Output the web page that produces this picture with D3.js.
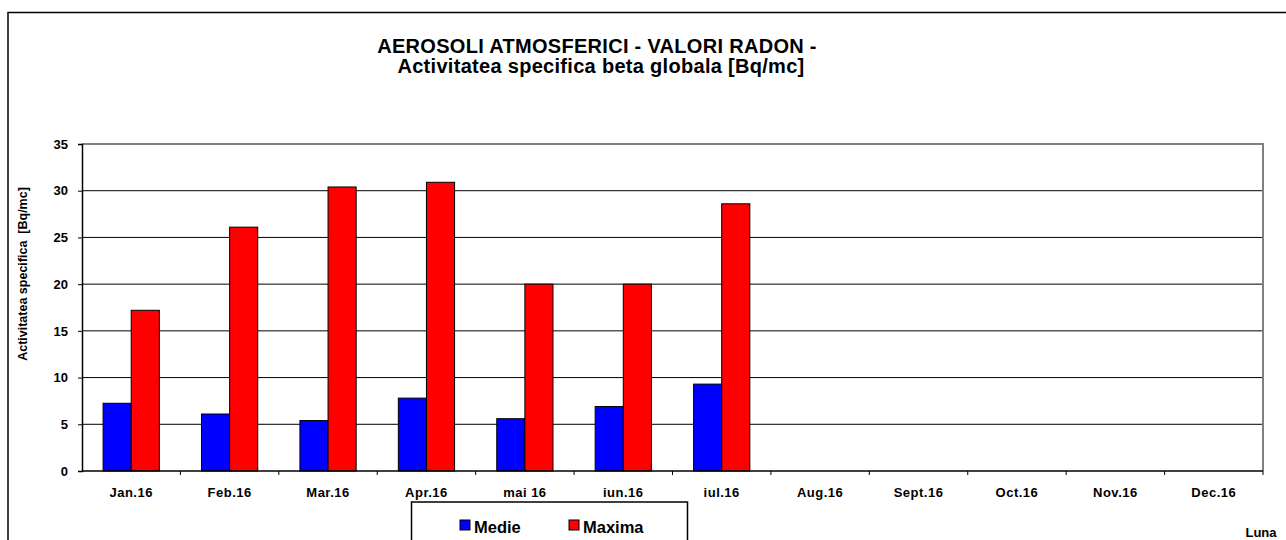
<!DOCTYPE html>
<html>
<head>
<meta charset="utf-8">
<script src="https://cdn.jsdelivr.net/npm/d3@7"></script>
<style>
  html, body { margin: 0; padding: 0; background: #fff; }
  svg { display: block; font-family: "Liberation Sans", Arial, sans-serif; }
</style>
</head>
<body>
<svg id="chart"></svg>
<script>
const months = ["Jan.16", "Feb.16", "Mar.16", "Apr.16", "mai 16", "iun.16", "iul.16",
                "Aug.16", "Sept.16", "Oct.16", "Nov.16", "Dec.16"];
const medie = [7.25, 6.1, 5.4, 7.8, 5.6, 6.9, 9.3, null, null, null, null, null];
const maxima = [17.2, 26.1, 30.4, 30.9, 20.0, 20.0, 28.6, null, null, null, null, null];
const yTicks = [0, 5, 10, 15, 20, 25, 30, 35];
const seriesNames = ["Medie", "Maxima"];
const seriesColors = ["#0000ff", "#ff0000"];

const width = 1286, height = 540;
const plot = {left: 82, right: 1263, top: 144, bottom: 471};

const svg = d3.select("#chart")
    .attr("width", width)
    .attr("height", height);

// outer chart border
svg.append("rect")
    .attr("x", 8).attr("y", 12.5)
    .attr("width", width + 10).attr("height", height)
    .attr("fill", "none")
    .attr("stroke", "#000")
    .attr("stroke-width", 1.5);

// title
const title = svg.append("text")
    .attr("text-anchor", "middle")
    .attr("font-weight", "bold")
    .attr("font-size", 20)
    .attr("letter-spacing", 0.3);
title.append("tspan").attr("x", 597).attr("y", 53).text("AEROSOLI ATMOSFERICI - VALORI RADON -");
title.append("tspan").attr("x", 601).attr("y", 73).text("Activitatea specifica beta globala [Bq/mc]");

const x0 = d3.scaleBand()
    .domain(months)
    .range([plot.left, plot.right])
    .padding(0);

const groupW = x0.bandwidth() * 2 / 3.5;
const x1 = d3.scaleBand()
    .domain(seriesNames)
    .range([0, groupW]);

const y = d3.scaleLinear()
    .domain([0, 35])
    .range([plot.bottom, plot.top]);

// gridlines
svg.append("g")
  .selectAll("line")
  .data(yTicks.filter(d => d > 0 && d < 35))
  .join("line")
    .attr("x1", plot.left).attr("x2", plot.right)
    .attr("y1", d => y(d)).attr("y2", d => y(d))
    .attr("stroke", "#000")
    .attr("stroke-width", 1);

// plot area border (gray top & right)
svg.append("path")
    .attr("d", `M${plot.left},${plot.top}H${plot.right}V${plot.bottom}`)
    .attr("fill", "none")
    .attr("stroke", "#808080")
    .attr("stroke-width", 2);

// bars
const rows = months.map((m, i) => ({month: m, values: [medie[i], maxima[i]]}));

svg.append("g")
  .selectAll("g")
  .data(rows)
  .join("g")
    .attr("transform", d => `translate(${x0(d.month) + (x0.bandwidth() - groupW) / 2},0)`)
  .selectAll("rect")
  .data(d => d.values.map((v, j) => ({key: seriesNames[j], value: v, color: seriesColors[j]}))
                     .filter(d => d.value != null))
  .join("rect")
    .attr("x", d => x1(d.key))
    .attr("y", d => y(d.value))
    .attr("width", x1.bandwidth())
    .attr("height", d => y(0) - y(d.value))
    .attr("fill", d => d.color)
    .attr("stroke", "#000")
    .attr("stroke-width", 1);

// y axis
const yAxis = svg.append("g")
    .attr("transform", `translate(${plot.left},0)`)
    .call(d3.axisLeft(y).tickValues(yTicks).tickSize(4).tickPadding(10));
yAxis.select(".domain").attr("stroke", "#000").attr("stroke-width", 1.5);
yAxis.selectAll(".tick line").attr("stroke", "#000");
yAxis.selectAll("text")
    .attr("font-size", 13)
    .attr("font-weight", "bold")
    .attr("font-family", "Liberation Sans, Arial, sans-serif")
    .attr("fill", "#000");

// x axis: ticks at category boundaries
const xAxis = svg.append("g")
    .attr("transform", `translate(0,${plot.bottom})`);
xAxis.append("line")
    .attr("x1", plot.left).attr("x2", plot.right)
    .attr("stroke", "#000").attr("stroke-width", 1.5);
xAxis.selectAll("line.tk")
  .data(months.slice(1).concat(["end"]))
  .join("line")
    .attr("class", "tk")
    .attr("x1", (d, i) => i < months.length - 1 ? x0(d) : plot.right)
    .attr("x2", (d, i) => i < months.length - 1 ? x0(d) : plot.right)
    .attr("y1", 0).attr("y2", 4)
    .attr("stroke", "#000");
xAxis.selectAll("text")
  .data(months)
  .join("text")
    .attr("x", d => x0(d) + x0.bandwidth() / 2)
    .attr("y", 26)
    .attr("text-anchor", "middle")
    .attr("font-size", 13)
    .attr("font-weight", "bold")
    .attr("letter-spacing", 0.5)
    .text(d => d);

// y axis title
svg.append("text")
    .attr("transform", "translate(27,274) rotate(-90)")
    .attr("text-anchor", "middle")
    .attr("font-size", 12.5)
    .attr("font-weight", "bold")
    .attr("xml:space", "preserve")
    .text("Activitatea specifica  [Bq/mc]");

// x axis title
svg.append("text")
    .attr("x", 1261).attr("y", 537)
    .attr("text-anchor", "middle")
    .attr("font-size", 13)
    .attr("font-weight", "bold")
    .text("Luna");

// legend
const legend = svg.append("g");
legend.append("rect")
    .attr("x", 411.5).attr("y", 502)
    .attr("width", 276).attr("height", 60)
    .attr("fill", "#fff")
    .attr("stroke", "#000")
    .attr("stroke-width", 1.5);
const legX = [460, 569];
const items = legend.selectAll("g.item")
  .data(seriesNames)
  .join("g")
    .attr("class", "item")
    .attr("transform", (d, i) => `translate(${legX[i]},520)`);
items.append("rect")
    .attr("width", 10).attr("height", 10)
    .attr("fill", (d, i) => seriesColors[i])
    .attr("stroke", "#000");
items.append("text")
    .attr("x", 14).attr("y", 13)
    .attr("font-size", 16.5)
    .attr("font-weight", "bold")
    .text(d => d);
</script>
</body>
</html>
